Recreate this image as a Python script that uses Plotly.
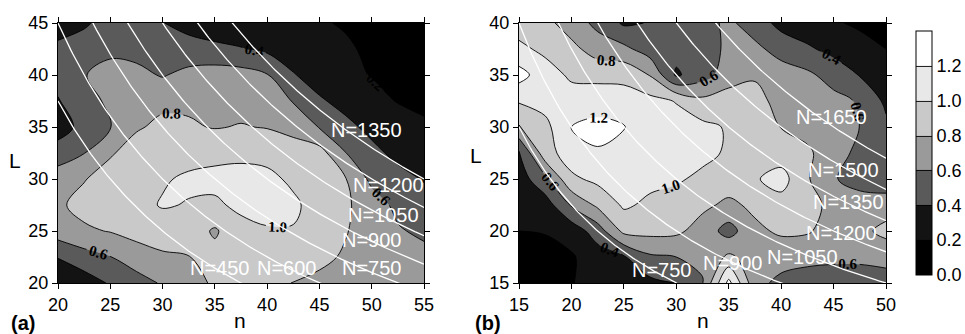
import plotly.graph_objects as go
import numpy as np

# ---------------- data ----------------
# panel (a): grid of n (x) and L (y); z rows go from L=20 (bottom) to L=45 (top)
n_a = [20, 22.5, 25, 27.5, 30, 32.5, 35, 37.5, 40, 42.5, 45, 47.5, 50, 52.5, 55]
L_a = [20, 22.5, 25, 27.5, 30, 32.5, 35, 37.5, 40, 42.5, 45]
z_a = [
    [0.22, 0.30, 0.42, 0.52, 0.62, 0.72, 0.83, 0.86, 0.85, 0.795, 0.76, 0.72, 0.70, 0.68, 0.66],
    [0.41, 0.52, 0.595, 0.70, 0.77, 0.795, 0.86, 0.88, 0.89, 0.88, 0.84, 0.78, 0.72, 0.68, 0.66],
    [0.70, 0.77, 0.81, 0.87, 0.90, 0.90, 0.775, 0.94, 0.98, 0.99, 0.92, 0.81, 0.72, 0.62, 0.56],
    [0.77, 0.86, 0.90, 0.94, 1.015, 0.99, 0.97, 1.04, 1.08, 1.03, 0.93, 0.83, 0.70, 0.55, 0.46],
    [0.70, 0.79, 0.88, 0.93, 0.98, 1.03, 1.05, 1.06, 1.04, 0.97, 0.90, 0.81, 0.55, 0.45, 0.39],
    [0.50, 0.595, 0.78, 0.88, 0.92, 0.93, 0.95, 0.96, 0.95, 0.92, 0.88, 0.605, 0.44, 0.36, 0.30],
    [0.30, 0.47, 0.595, 0.78, 0.84, 0.82, 0.79, 0.81, 0.79, 0.72, 0.59, 0.44, 0.36, 0.30, 0.25],
    [0.39, 0.50, 0.65, 0.72, 0.76, 0.77, 0.76, 0.74, 0.70, 0.59, 0.42, 0.35, 0.27, 0.19, 0.13],
    [0.45, 0.59, 0.68, 0.65, 0.585, 0.66, 0.70, 0.68, 0.61, 0.41, 0.33, 0.26, 0.19, 0.12, 0.08],
    [0.45, 0.50, 0.55, 0.54, 0.50, 0.47, 0.44, 0.41, 0.36, 0.32, 0.28, 0.23, 0.16, 0.10, 0.07],
    [0.30, 0.37, 0.48, 0.46, 0.405, 0.34, 0.30, 0.28, 0.26, 0.24, 0.22, 0.18, 0.12, 0.08, 0.05],
]

# panel (b): z rows go from L=15 (bottom) to L=40 (top)
n_b = [15, 17.5, 20, 22.5, 25, 27.5, 30, 32.5, 35, 37.5, 40, 42.5, 45, 47.5, 50]
L_b = [15, 17.5, 20, 22.5, 25, 27.5, 30, 32.5, 35, 37.5, 40]
z_b = [
    [0.03, 0.05, 0.19, 0.28, 0.32, 0.35, 0.39, 0.59, 1.26, 0.66, 0.55, 0.50, 0.50, 0.50, 0.52],
    [0.05, 0.08, 0.18, 0.30, 0.38, 0.57, 0.60, 0.63, 0.84, 0.70, 0.68, 0.66, 0.64, 0.64, 0.66],
    [0.20, 0.22, 0.28, 0.50, 0.85, 0.86, 0.84, 0.72, 0.52, 0.76, 0.83, 0.82, 0.72, 0.74, 0.86],
    [0.25, 0.30, 0.62, 0.84, 1.03, 0.96, 0.90, 0.84, 0.76, 0.84, 0.92, 0.85, 0.76, 0.72, 0.70],
    [0.30, 0.55, 0.96, 1.05, 1.06, 1.05, 1.03, 0.95, 0.90, 0.98, 1.08, 0.82, 0.62, 0.50, 0.48],
    [0.37, 0.92, 1.10, 1.18, 1.12, 1.10, 1.08, 1.06, 0.97, 0.92, 0.90, 0.83, 0.70, 0.54, 0.48],
    [0.78, 0.94, 1.21, 1.26, 1.21, 1.10, 1.08, 1.05, 0.98, 0.88, 0.795, 0.74, 0.70, 0.598, 0.44],
    [1.02, 1.08, 1.08, 1.10, 1.08, 1.06, 0.99, 0.85, 0.90, 0.86, 0.74, 0.70, 0.66, 0.58, 0.36],
    [1.28, 1.08, 0.97, 0.95, 0.95, 0.79, 0.37, 0.52, 0.70, 0.78, 0.70, 0.64, 0.52, 0.39, 0.30],
    [1.04, 0.96, 0.86, 0.70, 0.65, 0.50, 0.47, 0.53, 0.63, 0.65, 0.52, 0.43, 0.34, 0.27, 0.20],
    [0.92, 0.86, 0.70, 0.55, 0.37, 0.41, 0.50, 0.53, 0.64, 0.50, 0.34, 0.28, 0.22, 0.17, 0.12],
]

# iso-N curves: N = n*L + offset
N_a = [450, 600, 750, 900, 1050, 1200, 1350]
N_b = [750, 900, 1050, 1200, 1350, 1500, 1650]
N_offset_a = -300
N_offset_b = 300

# band colours (0-0.2, 0.2-0.4, ... , 1.2-1.4)
band_colors = ["#000000", "#131313", "#5a5a5a", "#9a9a9a", "#c9c9c9", "#e8e8e8", "#ffffff"]
cbar_ticks = [0.0, 0.2, 0.4, 0.6, 0.8, 1.0, 1.2]

# ---------------- figure ----------------
W, H = 965, 334
ML, MR, MT, MB = 0, 0, 23, 51
PH = H - MT - MB

def px2x(p):
    return p / W

def py2y(p):
    return (H - MB - p) / PH

colorscale = [[i / 6, c] for i, c in enumerate(band_colors)]
contours = dict(start=0.2, end=1.2, size=0.2, coloring="fill", showlabels=True,
                labelfont=dict(family="Liberation Serif", size=15, color="black", weight="bold"),
                labelformat=".1f")

fig = go.Figure()
fig.add_trace(go.Contour(
    x=n_a, y=L_a, z=z_a, autocontour=False, contours=contours, zmin=0, zmax=1.4,
    colorscale=colorscale, showscale=False,
    line=dict(color="black", width=0.9, smoothing=1.0),
    xaxis="x", yaxis="y", hoverinfo="skip"))
fig.add_trace(go.Contour(
    x=n_b, y=L_b, z=z_b, autocontour=False, contours=contours, zmin=0, zmax=1.4,
    colorscale=colorscale, showscale=True,
    line=dict(color="black", width=0.9, smoothing=1.0),
    colorbar=dict(x=px2x(916), xanchor="left", xpad=0, y=py2y(153), yanchor="middle", ypad=0,
                  len=244 / PH, lenmode="fraction", thickness=16, thicknessmode="pixels",
                  outlinecolor="black", outlinewidth=1, tickvals=cbar_ticks,
                  tickformat=".1f", ticks="",
                  tickfont=dict(family="Liberation Sans", size=18, color="black")),
    xaxis="x2", yaxis="y2", hoverinfo="skip"))

# white iso-N curves
def add_curves(Ns, off, nmin, nmax, xa, ya):
    nn = np.linspace(nmin, nmax, 200)
    for N in Ns:
        fig.add_trace(go.Scatter(x=nn, y=(N - off) / nn, mode="lines",
                                 line=dict(color="white", width=1.3),
                                 showlegend=False, hoverinfo="skip", xaxis=xa, yaxis=ya))

add_curves(N_a, N_offset_a, n_a[0], n_a[-1], "x", "y")
add_curves(N_b, N_offset_b, n_b[0], n_b[-1], "x2", "y2")

axis_common = dict(showline=True, linecolor="black", linewidth=1, mirror="ticks",
                   ticks="outside", ticklen=5, tickcolor="black", dtick=5,
                   showgrid=False, zeroline=False,
                   tickfont=dict(family="Liberation Sans", size=18, color="black"))

fig.update_layout(
    width=W, height=H, margin=dict(l=ML, r=MR, t=MT, b=MB, autoexpand=False),
    paper_bgcolor="white", plot_bgcolor="white", showlegend=False,
    xaxis=dict(domain=[px2x(58), px2x(424)], range=[20, 55], anchor="y", **axis_common),
    yaxis=dict(domain=[0, 1], range=[20, 45], anchor="x", **axis_common),
    xaxis2=dict(domain=[px2x(519), px2x(886)], range=[15, 50], anchor="y2", **axis_common),
    yaxis2=dict(domain=[0, 1], range=[15, 40], anchor="x2", **axis_common),
)

ann = []
lab_font = dict(family="Liberation Sans", size=20, color="white")
labels_a = [("N=1350", 49.5, 34.7), ("N=1200", 51.6, 29.4), ("N=1050", 51.1, 26.5),
            ("N=900", 50.0, 24.1), ("N=750", 50.0, 21.4), ("N=450", 35.5, 21.4),
            ("N=600", 41.9, 21.4)]
labels_b = [("N=1650", 44.8, 31.0), ("N=1500", 45.9, 25.9), ("N=1350", 46.4, 22.8),
            ("N=1200", 45.8, 19.8), ("N=1050", 42.0, 17.5), ("N=900", 35.4, 16.9),
            ("N=750", 28.6, 16.25)]
for t, x, y in labels_a:
    ann.append(dict(text=t, x=x, y=y, xref="x", yref="y", showarrow=False, font=lab_font))
for t, x, y in labels_b:
    ann.append(dict(text=t, x=x, y=y, xref="x2", yref="y2", showarrow=False, font=lab_font))

title_font = dict(family="Liberation Sans", size=21, color="black")
common = dict(xref="paper", yref="paper", showarrow=False, xanchor="center", yanchor="middle")
ann += [
    dict(text="n", x=px2x(240), y=py2y(320), font=title_font, **common),
    dict(text="n", x=px2x(703), y=py2y(320), font=title_font, **common),
    dict(text="L", x=px2x(15), y=py2y(160), font=title_font, **common),
    dict(text="L", x=px2x(476), y=py2y(155), font=title_font, **common),
    dict(text="<b>(a)</b>", x=px2x(23), y=py2y(323), font=dict(family="Liberation Sans", size=20, color="black"), **common),
    dict(text="<b>(b)</b>", x=px2x(488), y=py2y(323), font=dict(family="Liberation Sans", size=20, color="black"), **common),
]
fig.update_layout(annotations=ann)

# the page body default margin would shift the figure by 8px; remove it
fig.write_html("out.html", config={"displayModeBar": False},
               post_script="document.body.style.margin='0px';document.body.style.overflow='hidden';")
